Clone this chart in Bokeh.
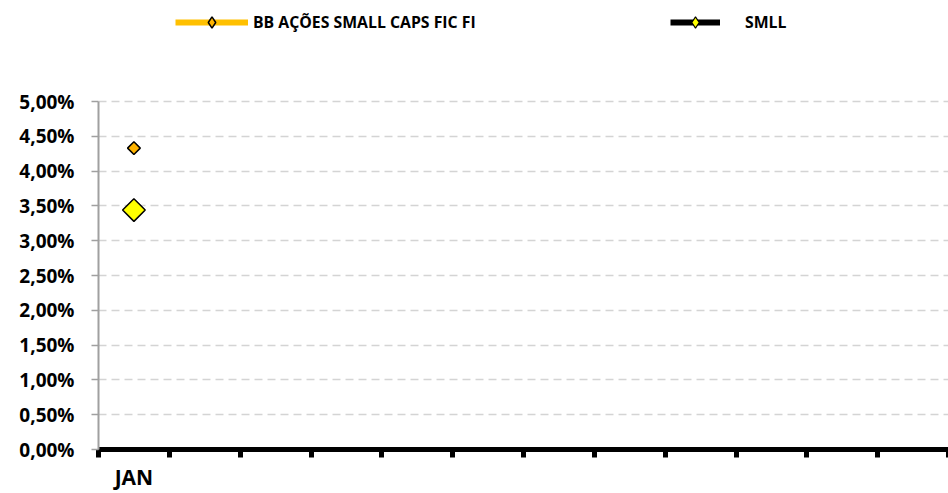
import math
import numpy as np
from bokeh.plotting import figure
from bokeh.models import Range1d, FixedTicker, Legend, LegendItem, ColumnDataSource
from bokeh.embed import file_html
from bokeh.resources import INLINE

nan = float("nan")

# ---- data ----
month_labels = ["JAN", "", "", "", "", "", "", "", "", "", "", ""]
bb_values = [4.33, nan, nan, nan, nan, nan, nan, nan, nan, nan, nan, nan]
smll_values = [3.44, nan, nan, nan, nan, nan, nan, nan, nan, nan, nan, nan]
series_names = ["BB AÇÕES SMALL CAPS FIC FI", "SMLL"]
y_ticks = [0.0, 0.5, 1.0, 1.5, 2.0, 2.5, 3.0, 3.5, 4.0, 4.5, 5.0]

n = len(month_labels)
x_centers = [i + 0.5 for i in range(n)]
x_bounds = list(range(n + 1))

source = ColumnDataSource(dict(
    x=np.array(x_centers, dtype=float),
    bb=np.array(bb_values, dtype=float),
    smll=np.array(smll_values, dtype=float),
))

FONT = "Open Sans"

W, H = 948, 493
BORDER_L, BORDER_B = 98, 44
FRAME_H = H - BORDER_B          # frame spans the full height (legend lives in its top part)
PLOT_H = 348                    # pixel height of the 0..5% value area
y_top = y_ticks[-1] * FRAME_H / PLOT_H

p = figure(width=W, height=H,
           x_range=Range1d(x_bounds[0], x_bounds[-1]),
           y_range=Range1d(y_ticks[0], y_top),
           output_backend="svg", toolbar_location=None,
           min_border_left=BORDER_L, min_border_right=0,
           min_border_top=0, min_border_bottom=BORDER_B)
p.outline_line_color = None
p.background_fill_color = "white"
p.border_fill_color = "white"

BB_LINE, BB_MARK = "#FFC000", "#FFB400"
SM_LINE, SM_MARK = "black", "#FFFF00"

# ---- series ----
l_bb = p.line("x", "bb", source=source, line_color=BB_LINE, line_width=6)
s_bb = p.scatter("x", "bb", source=source, marker="square", angle=math.pi / 4, size=9,
                 fill_color=BB_MARK, line_color="black", line_width=1.5)
l_sm = p.line("x", "smll", source=source, line_color=SM_LINE, line_width=6)
s_sm = p.scatter("x", "smll", source=source, marker="square", angle=math.pi / 4, size=16,
                 fill_color=SM_MARK, line_color="black", line_width=1.5)

# legend keys (diamond symbol, legend only: no data points)
empty = ColumnDataSource(dict(x=np.array([nan]), y=np.array([nan])))
k_bb = p.scatter("x", "y", source=empty, marker="diamond", fill_color=BB_MARK,
                 line_color="black", line_width=1.5)
k_sm = p.scatter("x", "y", source=empty, marker="diamond", fill_color=SM_MARK,
                 line_color="black", line_width=1.2)

# ---- x axis ----
xa = p.xaxis[0]
xa.ticker = FixedTicker(ticks=x_centers, minor_ticks=x_bounds)
xa.major_label_overrides = {x: lab for x, lab in zip(x_centers, month_labels)}
xa.axis_line_color = "black"
xa.axis_line_width = 5
xa.major_tick_line_color = None
xa.major_tick_out = 0
xa.major_tick_in = 0
xa.minor_tick_line_color = "black"
xa.minor_tick_line_width = 5
xa.minor_tick_out = 8
xa.minor_tick_in = 0
xa.major_label_text_font = FONT
xa.major_label_text_font_style = "bold"
xa.major_label_text_font_size = "21px"
xa.major_label_text_color = "black"
xa.major_label_standoff = 5

# ---- y axis ----
ya = p.yaxis[0]
yt = FixedTicker(ticks=y_ticks)
ya.ticker = yt
ya.bounds = (y_ticks[0], y_ticks[-1])
ya.major_label_overrides = {t: f"{t:.2f}%".replace(".", ",") for t in y_ticks}
ya.axis_line_color = "#A0A0A0"
ya.axis_line_width = 2
ya.major_tick_line_color = "#A0A0A0"
ya.major_tick_line_width = 1.5
ya.major_tick_out = 7
ya.major_tick_in = 0
ya.minor_tick_line_color = None
ya.major_label_text_font = FONT
ya.major_label_text_font_style = "bold"
ya.major_label_text_font_size = "19px"
ya.major_label_text_color = "black"
ya.major_label_standoff = 17

p.xgrid.visible = False
p.ygrid.ticker = yt
p.ygrid.grid_line_color = "#D4D4D4"
p.ygrid.grid_line_width = 1.5
p.ygrid.grid_line_dash = "8 5"

# ---- legends ----
def make_legend(label, renderers, loc, gw, standoff):
    return Legend(items=[LegendItem(label=label, renderers=renderers)],
                  location=loc, orientation="horizontal",
                  border_line_color=None, background_fill_alpha=0,
                  padding=0, margin=0, spacing=0,
                  glyph_width=gw, glyph_height=28, label_height=28,
                  label_standoff=standoff,
                  label_text_font=FONT, label_text_font_style="bold",
                  label_text_font_size="15.8px", label_text_color="black",
                  label_text_baseline="middle")

p.add_layout(make_legend(series_names[0], [l_bb, k_bb], (77, 413), 73, 5))
p.add_layout(make_legend(series_names[1], [l_sm, k_sm], (572, 413), 50, 25))

open("out.html", "w").write(file_html(p, INLINE))
